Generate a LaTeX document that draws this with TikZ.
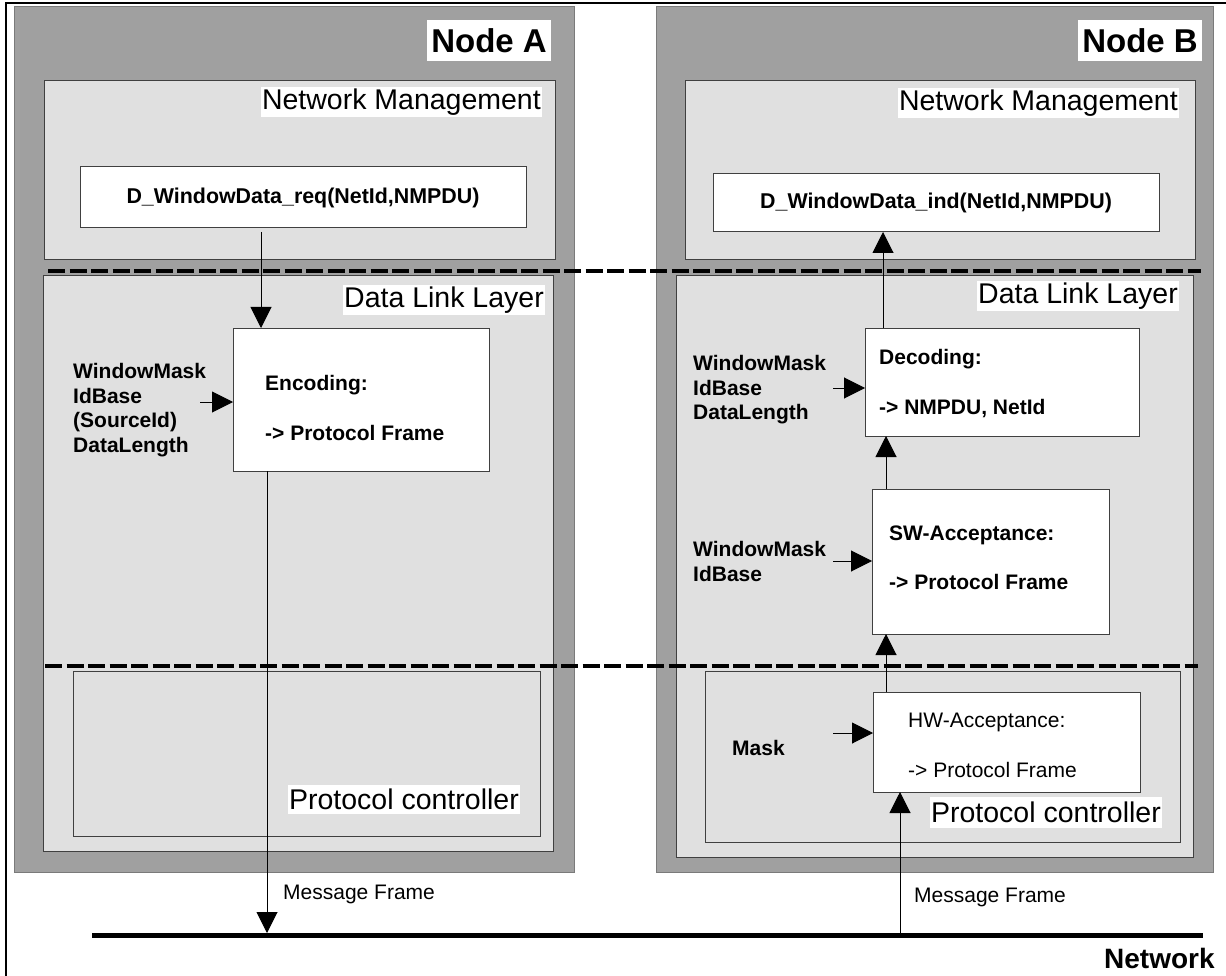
\documentclass[tikz,border=0pt]{standalone}
\usepackage{fontspec}
\setmainfont{Liberation Sans}
\usetikzlibrary{arrows.meta}
\definecolor{nodegray}{HTML}{A0A0A0}
\definecolor{layergray}{HTML}{E0E0E0}
\definecolor{edgegray}{HTML}{404040}
\definecolor{outergray}{HTML}{7A7A7A}
\begin{document}
\begin{tikzpicture}[x=1pt,y=-1pt,
  nodebox/.style={draw=outergray, fill=nodegray, line width=1pt, inner sep=0pt, outer sep=0pt},
  layerbox/.style={draw=edgegray, fill=layergray, line width=1pt, inner sep=0pt, outer sep=0pt},
  whitebox/.style={draw=edgegray, fill=white, line width=1pt, inner sep=0pt, outer sep=0pt},
  hdr/.style={fill=white, anchor=north east, font=\fontsize{33}{36}\selectfont\bfseries, minimum height=41pt, inner xsep=4pt, inner ysep=0pt},
  layerlbl/.style={fill=white, anchor=north east, font=\fontsize{28.5}{32}\selectfont, minimum height=30pt, inner xsep=1pt, inner ysep=0pt},
  tb/.style={font=\fontsize{21}{24.7}\selectfont\bfseries, inner sep=0pt, text height=15pt, text depth=0pt, anchor=west},
  tr/.style={font=\fontsize{21}{24.7}\selectfont, inner sep=0pt, text height=15pt, text depth=0pt, anchor=west},
  ml/.style={font=\fontsize{21}{24.7}\selectfont\bfseries, inner sep=0pt, align=left, anchor=north west},
  sepline/.style={line width=4.5pt, dash pattern=on 17pt off 4.5pt},
  netline/.style={line width=5pt},
  arr/.style={line width=1pt, -{Triangle[length=21pt,width=21pt]}}
]
\useasboundingbox (0,0) rectangle (1226,976);
\fill[white] (0,0) rectangle (1226,976);
\draw[line width=2pt] (5.5,3) rectangle (1240,990);

% nodes
\node[nodebox, minimum width=560pt, minimum height=865pt] (nodeA) at (294,439.5) {};
\node[nodebox, minimum width=557pt, minimum height=865pt] (nodeB) at (934.5,439.5) {};
\node[hdr] (labA) at (551,20) {Node A};
\node[hdr] (labB) at (1202,20) {Node B};

% network management
\node[layerbox, minimum width=511pt, minimum height=179pt] (nmA) at (299.5,170.5) {};
\node[layerbox, minimum width=510pt, minimum height=179pt] (nmB) at (940,170.5) {};
\node[layerlbl] (nmAl) at (542,87) {Network Management};
\node[layerlbl] (nmBl) at (1179,88) {Network Management};
\node[whitebox, minimum width=446pt, minimum height=61pt, font=\fontsize{21.4}{25}\selectfont\bfseries] (req) at (303,197.5) {D\_WindowData\_req(NetId,NMPDU)};
\node[whitebox, minimum width=446pt, minimum height=58pt, font=\fontsize{21.4}{25}\selectfont\bfseries] (ind) at (936,203) {D\_WindowData\_ind(NetId,NMPDU)};

% data link layer
\node[layerbox, minimum width=510pt, minimum height=575pt] (dllA) at (298,563.5) {};
\node[layerbox, minimum width=517pt, minimum height=581pt] (dllB) at (934.5,566.5) {};
\node[layerlbl] (dllAl) at (545,285) {Data Link Layer};
\node[layerlbl] (dllBl) at (1179,281) {Data Link Layer};

% separators
\coordinate (s1L) at (48,271); \coordinate (s1R) at (1201,271);
\coordinate (s2L) at (45,666); \coordinate (s2R) at (1198,666);
\draw[sepline] (s1L) -- (s1R);
\draw[sepline] (s2L) -- (s2R);

% protocol controllers
\node[layerbox, minimum width=467pt, minimum height=165pt] (pcA) at (306.5,753.5) {};
\node[layerbox, minimum width=475pt, minimum height=171pt] (pcB) at (942.5,756.5) {};
\node[layerlbl, minimum height=29pt] (pcAl) at (520,785) {Protocol controller};

% node A processing
\node[whitebox, minimum width=256pt, minimum height=143pt] (enc) at (361,399.5) {};
\node[tb] (encT1) at (265,383) {Encoding:};
\node[tb] (encT2) at (265,433) {-> Protocol Frame};
\node[ml] (parA) at (73,363) {WindowMask\\IdBase\\(SourceId)\\DataLength};

% node B processing
\node[whitebox, minimum width=274pt, minimum height=108pt] (dec) at (1002,382) {};
\node[tb] (decT1) at (879,357) {Decoding:};
\node[tb] (decT2) at (879,407) {-> NMPDU, NetId};
\node[ml] (parB1) at (693,355) {WindowMask\\IdBase\\DataLength};

\node[whitebox, minimum width=237pt, minimum height=145pt] (sw) at (990.5,561.5) {};
\node[tb] (swT1) at (889,533) {SW-Acceptance:};
\node[tb] (swT2) at (889,582) {-> Protocol Frame};
\node[ml] (parB2) at (693,541) {WindowMask\\IdBase};

\node[whitebox, minimum width=267pt, minimum height=100pt] (hw) at (1006.5,742) {};
\node[tr] (hwT1) at (908,720) {HW-Acceptance:};
\node[tr] (hwT2) at (908,770) {-> Protocol Frame};
\node[tb] (mask) at (732,748) {Mask};
\node[layerlbl, minimum height=31pt] (pcBl) at (1162,797) {Protocol controller};

% network
\coordinate (netL) at (92,935); \coordinate (netR) at (1203,935);
\draw[netline] (netL) -- (netR);
\node[font=\fontsize{28}{32}\selectfont\bfseries, inner sep=0pt, text height=20pt, text depth=0pt, anchor=west] (netlbl) at (1104,958) {Network};
\node[tr] (mfA) at (283,892) {Message Frame};
\node[tr] (mfB) at (914,895) {Message Frame};

% connectors
\coordinate (xA) at (261,0);
\draw[arr, shorten <=4pt] (req.south -| xA) -- (enc.north -| xA);
\coordinate (tipA) at (267,933);
\draw[arr] (enc.south -| tipA) -- (tipA);
\coordinate (inA) at (200,402);
\draw[arr] (inA) -- (inA -| enc.west);

\coordinate (xD) at (883,0);
\draw[arr] (dec.north -| xD) -- (ind.south -| xD);
\coordinate (xS) at (886,0);
\draw[arr] (sw.north -| xS) -- (dec.south -| xS);
\draw[arr] (hw.north -| xS) -- (sw.south -| xS);
\coordinate (srcB) at (900,935);
\draw[arr] (srcB) -- (hw.south -| srcB);
\coordinate (inB1) at (833,388);
\draw[arr] (inB1) -- (inB1 -| dec.west);
\coordinate (inB2) at (833,561);
\draw[arr] (inB2) -- (inB2 -| sw.west);
\coordinate (inB3) at (833,733);
\draw[arr] (inB3) -- (inB3 -| hw.west);
\end{tikzpicture}
\end{document}
